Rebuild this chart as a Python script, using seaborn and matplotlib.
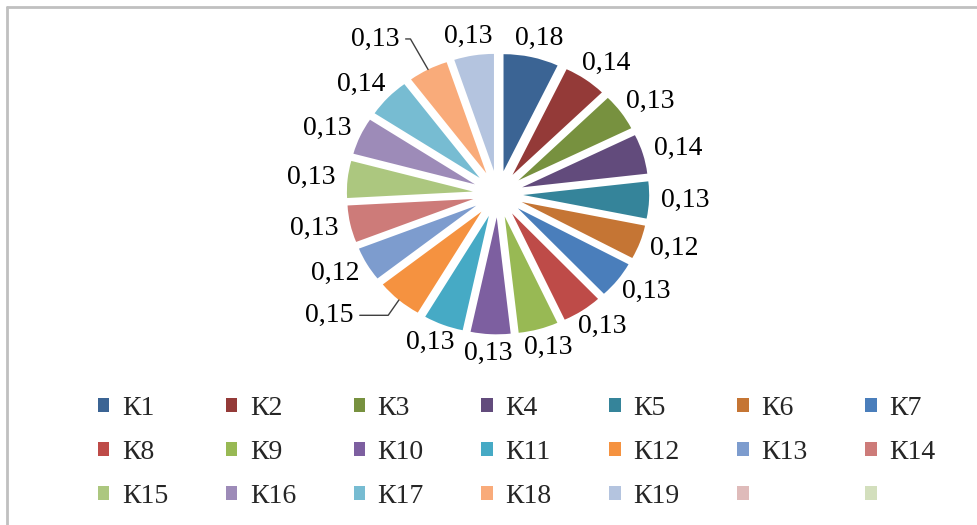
import numpy as np
import matplotlib
matplotlib.use("Agg")
import matplotlib.pyplot as plt
from matplotlib.patches import Patch
from matplotlib.lines import Line2D
import seaborn as sns

# data
names = ["К1", "К2", "К3", "К4", "К5", "К6", "К7", "К8", "К9", "К10",
         "К11", "К12", "К13", "К14", "К15", "К16", "К17", "К18", "К19"]
values = [0.18, 0.14, 0.13, 0.14, 0.13, 0.12, 0.13, 0.13, 0.13, 0.13,
          0.13, 0.15, 0.12, 0.13, 0.13, 0.13, 0.14, 0.13, 0.13]
# two empty legend entries without slices
extra_names = ["", ""]

colours = ["#3b6494", "#943a38", "#77913f", "#624b7c", "#35849a", "#c57534",
           "#4a7ebb", "#be4b48", "#98b954", "#7d5fa0", "#46aac5", "#f59240",
           "#7d9cce", "#cd7b79", "#acc77f", "#9d8bb8", "#77bcd2", "#f9ab7a",
           "#b4c4df"]
extra_colours = ["#dfbbba", "#d3dfbd"]

leader = {11: (-50, -11), 17: (-38, 22)}  # labels drawn with a leader line

sns.set_theme(style="white")
plt.rcParams['font.family'] = ['Liberation Serif', 'DejaVu Serif']
fs = 20

fig = plt.figure(figsize=(9.77, 5.25), dpi=100)

# pie axes, slightly wider scale in x like the reference
ax = fig.add_axes([0.0583, 0.274, 0.9028, 0.713])
pal = sns.color_palette(colours)
wedges, _ = ax.pie(values, colors=pal, startangle=90, counterclock=False,
                   explode=[0.2]*len(values), radius=1.0,
                   wedgeprops=dict(linewidth=0))
ax.set_aspect('auto')
ax.set_xlim(-3.5, 3.5)
ax.set_ylim(-1.6, 1.6)
ax.axis('off')

for i, w in enumerate(wedges):
    th = np.deg2rad((w.theta1 + w.theta2) / 2)
    txt = f"{values[i]:.2f}".replace(".", ",")
    if i in leader:
        xy = (1.2*np.cos(th), 1.2*np.sin(th))
        ang = 55 if i == 11 else 120
        ax.annotate(txt, xy=xy, xytext=leader[i], textcoords='offset points',
                    ha='center', va='center', fontsize=fs, color='black',
                    arrowprops=dict(arrowstyle='-', color='#404040', lw=1,
                                    shrinkA=2, shrinkB=0,
                                    connectionstyle=f"angle,angleA=0,angleB={ang},rad=0"))
    else:
        xy = (1.28*np.cos(th), 1.28*np.sin(th))
        ax.annotate(txt, xy=xy, xytext=(19*np.cos(th), 7*np.sin(th)),
                    textcoords='offset points', ha='center', va='center',
                    fontsize=fs, color='black')

# legend is filled row by row in the reference
all_names = names + extra_names
all_cols = colours + extra_colours
ncol, nrow = 7, 3
order = [r*ncol + c for c in range(ncol) for r in range(nrow)]
handles = [Patch(facecolor=all_cols[k], edgecolor='none') for k in order]
labels = [all_names[k] for k in order]
fig.legend(handles, labels, ncol=ncol, loc='upper left',
           bbox_to_anchor=(0.1, 0.246), frameon=False, fontsize=fs,
           handlelength=0.42, handleheight=0.42, handletextpad=0.45,
           columnspacing=2.07, labelspacing=0.68, borderpad=0, borderaxespad=0)

# chart border (only top and left edges visible)
fig.add_artist(Line2D([7/977, 1], [1-7/525, 1-7/525], color='#c0c0c0', lw=2))
fig.add_artist(Line2D([7/977, 7/977], [0, 1-7/525], color='#c0c0c0', lw=2))

plt.savefig("out.png", dpi=100)
plt.close()
